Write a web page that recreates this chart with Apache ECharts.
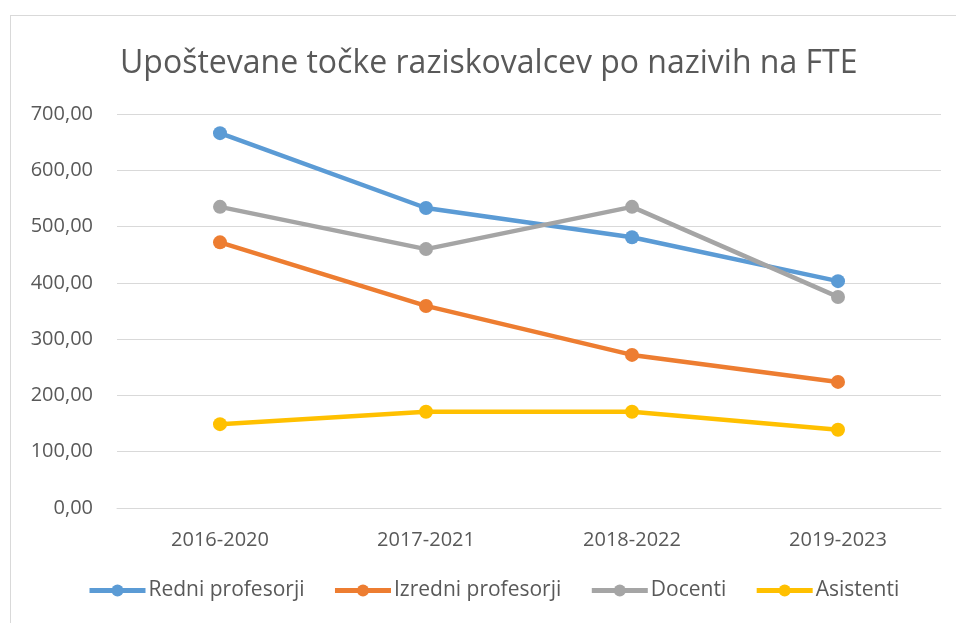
<!DOCTYPE html>
<html>
<head>
<meta charset="utf-8">
<script src="https://cdn.jsdelivr.net/npm/echarts@6/dist/echarts.min.js"></script>
<style>
  html, body { margin: 0; padding: 0; background: #fff; }
  #frame { position: absolute; left: 10px; top: 15px; width: 960px; height: 620px; border: 1px solid #d9d9d9; box-sizing: border-box; }
  #main { width: 956px; height: 623px; position: absolute; left: 0; top: 0; }
</style>
</head>
<body>
<div id="frame"></div>
<div id="main"></div>
<script>
const categories = ['2016-2020', '2017-2021', '2018-2022', '2019-2023']
const redni = [666, 533, 481, 403]
const izredni = [472, 359, 272, 224]
const docenti = [535, 460, 535, 375]
const asistenti = [149, 171, 171, 139]
const seriesNames = ['Redni profesorji', 'Izredni profesorji', 'Docenti', 'Asistenti']
const colors = ['#5b9bd5', '#ed7d31', '#a5a5a5', '#ffc000']

const font = '"Open Sans", sans-serif'
const chart = echarts.init(document.getElementById('main'))

function line (name, data, color) {
  return {
    name: name,
    type: 'line',
    data: data,
    symbol: 'circle',
    symbolSize: 14,
    lineStyle: { width: 4.5, color: color },
    itemStyle: { color: color },
    z: 3
  }
}

chart.setOption({
  animation: false,
  title: {
    text: 'Upoštevane točke raziskovalcev po nazivih na FTE',
    left: 115,
    top: 43,
    textStyle: { fontFamily: font, fontSize: 32, fontWeight: 'normal', color: '#595959' }
  },
  legend: {
    bottom: 17,
    left: 82,
    itemWidth: 56,
    itemHeight: 15,
    itemGap: 28,
    textStyle: { fontFamily: font, fontSize: 21, color: '#595959', padding: [0, 0, 0, -2] },
    data: seriesNames.map(n => ({ name: n, lineStyle: { width: 5 } }))
  },
  grid: { left: 117, right: 15, top: 114, bottom: 115 },
  xAxis: {
    type: 'category',
    data: categories,
    axisLine: { show: true, lineStyle: { color: '#d9d9d9', width: 1 } },
    axisTick: { show: false },
    axisLabel: { fontFamily: font, fontSize: 20, color: '#595959', margin: 22 }
  },
  yAxis: {
    type: 'value',
    min: 0,
    max: 700,
    interval: 100,
    axisLine: { show: false },
    axisTick: { show: false },
    splitLine: { lineStyle: { color: '#d9d9d9', width: 1 } },
    axisLabel: {
      fontFamily: font, fontSize: 20, color: '#595959', margin: 24,
      formatter: v => v.toFixed(2).replace('.', ',')
    }
  },
  series: [
    line(seriesNames[0], redni, colors[0]),
    line(seriesNames[1], izredni, colors[1]),
    line(seriesNames[2], docenti, colors[2]),
    line(seriesNames[3], asistenti, colors[3])
  ]
})
</script>
</body>
</html>
